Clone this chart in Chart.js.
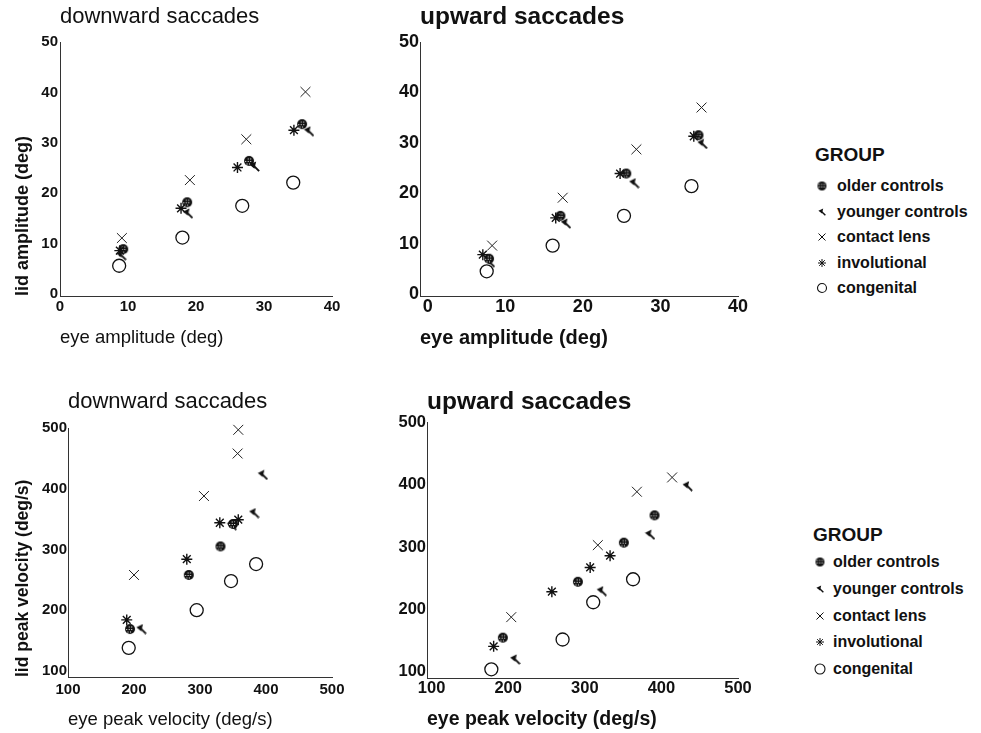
<!DOCTYPE html>
<html>
<head>
<meta charset="utf-8">
<script src="https://cdn.jsdelivr.net/npm/chart.js@4.4.1/dist/chart.umd.min.js"></script>
<style>
  html, body { margin: 0; padding: 0; background: #fff; }
  body { width: 981px; height: 733px; position: relative; overflow: hidden; font-family: "Liberation Sans", Arial, sans-serif; color: #111; }
  canvas.panel { position: absolute; }
  .legend { position: absolute; left: 0; top: 0; }
  .legend div { position: absolute; white-space: nowrap; line-height: 20px; font-weight: bold; }
  .legend canvas { position: absolute; }
</style>
</head>
<body>
<canvas class="panel" id="ampDown" width="380" height="360" style="left:0;top:0"></canvas>
<canvas class="panel" id="ampUp" width="400" height="360" style="left:380px;top:0"></canvas>
<canvas class="panel" id="velDown" width="380" height="353" style="left:0;top:380px"></canvas>
<canvas class="panel" id="velUp" width="400" height="353" style="left:380px;top:380px"></canvas>
<div class="legend" id="legendTop"></div>
<div class="legend" id="legendBottom"></div>

<script>
// --- groups ---
const groups = ['older controls', 'younger controls', 'contact lens', 'involutional', 'congenital'];

// --- amplitude, downward saccades: [eye, lid] in deg ---
const ampDownOlder      = [[9.3, 8.9], [18.7, 18.2], [27.8, 26.4], [35.6, 33.7]];
const ampDownYounger    = [[9.0, 7.7], [18.8, 16.0], [28.6, 25.3], [36.6, 32.3]];
const ampDownContact    = [[9.1, 11.1], [19.1, 22.6], [27.4, 30.7], [36.1, 40.1]];
const ampDownInvol      = [[8.8, 8.6], [17.8, 17.0], [26.1, 25.1], [34.4, 32.5]];
const ampDownCongenital = [[8.7, 5.6], [18.0, 11.2], [26.8, 17.5], [34.3, 22.1]];

// --- amplitude, upward saccades ---
const ampUpOlder      = [[7.9, 7.0], [17.1, 15.5], [25.6, 23.9], [34.9, 31.5]];
const ampUpYounger    = [[8.0, 6.3], [17.8, 14.0], [26.6, 22.0], [35.4, 29.8]];
const ampUpContact    = [[8.3, 9.6], [17.4, 19.1], [26.9, 28.7], [35.3, 37.0]];
const ampUpInvol      = [[7.1, 7.8], [16.5, 15.1], [24.8, 23.9], [34.3, 31.3]];
const ampUpCongenital = [[7.6, 4.5], [16.1, 9.6], [25.3, 15.5], [34.0, 21.4]];

// --- peak velocity, downward saccades: [eye, lid] in deg/s ---
const velDownOlder      = [[194, 169], [283, 258], [331, 305], [350, 342]];
const velDownYounger    = [[211, 169], [348, 340], [382, 360], [395, 423]];
const velDownContact    = [[200, 258], [306, 388], [357, 458], [358, 497]];
const velDownInvol      = [[189, 184], [280, 284], [330, 344], [358, 349]];
const velDownCongenital = [[192, 138], [295, 200], [347, 248], [385, 276]];

// --- peak velocity, upward saccades ---
const velUpOlder      = [[193, 154], [291, 244], [351, 307], [391, 351]];
const velUpYounger    = [[209, 119], [322, 229], [385, 320], [434, 398]];
const velUpContact    = [[204, 187], [317, 303], [368, 389], [414, 412]];
const velUpInvol      = [[181, 140], [257, 228], [307, 267], [333, 286]];
const velUpCongenital = [[178, 103], [271, 151], [311, 211], [363, 248]];

// --- tick labels ---
const ampTicks = [0, 10, 20, 30, 40, 50];
const velTicks = [100, 200, 300, 400, 500];

const fam = '"Liberation Sans", Arial, sans-serif';
Chart.defaults.font.family = fam;
Chart.defaults.color = '#111';

// --- marker images for the two control groups ---
function olderImage(r) {
    const c = document.createElement('canvas');
    const s = Math.ceil(2 * r + 2);
    c.width = s; c.height = s;
    const g = c.getContext('2d');
    g.fillStyle = '#111';
    g.beginPath();
    g.arc(s / 2, s / 2, r, 0, Math.PI * 2);
    g.fill();
    g.fillStyle = '#fff';
    for (let y = 1; y < s; y += 2.5) {
        for (let x = (Math.round(y) % 2 ? 1 : 2.2); x < s; x += 2.5) {
            const dx = x + 0.5 - s / 2, dy = y + 0.5 - s / 2;
            if (dx * dx + dy * dy < (r - 1.2) * (r - 1.2)) g.fillRect(x, y, 1, 1);
        }
    }
    return c;
}

function youngerImage(s) {
    const c = document.createElement('canvas');
    c.width = s; c.height = s;
    const g = c.getContext('2d');
    const k = s / 10;
    g.fillStyle = '#111';
    g.strokeStyle = '#111';
    g.lineWidth = 1.8 * k;
    g.beginPath();
    g.moveTo(0.5 * k, 3.5 * k);
    g.lineTo(6.5 * k, 0.5 * k);
    g.lineTo(5 * k, 7 * k);
    g.closePath();
    g.fill();
    g.beginPath();
    g.moveTo(4 * k, 4 * k);
    g.lineTo(9.2 * k, 9.2 * k);
    g.stroke();
    return c;
}

const olderImg = olderImage(5);
const youngerImg = youngerImage(11);

const markerStyles = [
    { pointStyle: olderImg, radius: 5 },
    { pointStyle: youngerImg, radius: 5 },
    { pointStyle: 'crossRot', radius: 7, borderColor: '#222', borderWidth: 1 },
    { pointStyle: 'star', radius: 5.5, borderColor: '#111', borderWidth: 1.4 },
    { pointStyle: 'circle', radius: 6.5, borderColor: '#111', borderWidth: 1.3, backgroundColor: '#fff' }
];

function toPoints(arr) {
    return arr.map(p => ({ x: p[0], y: p[1] }));
}

function makePanel(id, o) {
    // draw congenital first so the filled symbols sit on top
    const order = [4, 3, 2, 0, 1];
    const datasets = order.map(i => Object.assign({
        label: groups[i],
        data: toPoints(o.series[i]),
        backgroundColor: '#111',
        borderColor: '#111',
        clip: false
    }, markerStyles[i]));

    new Chart(document.getElementById(id), {
        type: 'scatter',
        data: { datasets: datasets },
        options: {
            responsive: false,
            animation: false,
            events: [],
            layout: { padding: { left: 0, top: 0, bottom: 0, right: o.padRight } },
            plugins: {
                legend: { display: false },
                tooltip: { enabled: false },
                title: {
                    display: true,
                    text: o.title,
                    align: 'start',
                    fullSize: false,
                    color: '#111',
                    font: { size: o.titleSize, weight: o.titleWeight },
                    padding: { top: o.titleTop, bottom: o.titleBottom }
                }
            },
            scales: {
                x: {
                    type: 'linear',
                    min: o.xMin, max: o.xMax,
                    afterBuildTicks: s => { s.ticks = o.xTicks.map(v => ({ value: v })); },
                    ticks: { font: { size: o.tickSize, weight: 'bold' }, color: '#111', padding: o.xTickPad, maxRotation: 0, autoSkip: false },
                    grid: { display: false, drawTicks: false },
                    border: { color: '#333', width: 1 },
                    title: {
                        display: true, text: o.xTitle, align: 'start', color: '#111',
                        font: { size: o.xTitleSize, weight: o.xTitleWeight },
                        padding: { top: 0, bottom: o.xTitlePad }
                    },
                    afterFit: s => { s.height = o.xAxisH; }
                },
                y: {
                    type: 'linear',
                    min: o.yMin, max: o.yMax,
                    afterBuildTicks: s => { s.ticks = o.yTicks.map(v => ({ value: v })); },
                    ticks: { font: { size: o.tickSize, weight: 'bold' }, color: '#111', padding: o.yTickPad, autoSkip: false },
                    grid: { display: false, drawTicks: false },
                    border: { color: '#333', width: 1 },
                    title: {
                        display: !!o.yTitle, text: o.yTitle || '', align: 'start', color: '#111',
                        font: { size: o.yTitleSize, weight: 'bold' },
                        padding: { top: o.yTitlePad, bottom: 0 }
                    },
                    afterFit: s => { s.width = o.yAxisW; }
                }
            }
        }
    });
}

makePanel('ampDown', {
    series: [ampDownOlder, ampDownYounger, ampDownContact, ampDownInvol, ampDownCongenital],
    title: 'downward saccades', titleSize: 22, titleWeight: 'normal', titleTop: 4, titleBottom: 11.6,
    xMin: 0, xMax: 40, xTicks: ampTicks.slice(0, 5), yMin: -0.4, yMax: 50, yTicks: ampTicks,
    tickSize: 15, xTickPad: 2, yTickPad: 2,
    xTitle: 'eye amplitude (deg)', xTitleSize: 18.5, xTitleWeight: 'normal', xTitlePad: 11,
    yTitle: 'lid amplitude (deg)', yTitleSize: 18, yTitlePad: 12,
    xAxisH: 64, yAxisW: 60, padRight: 48
});

makePanel('ampUp', {
    series: [ampUpOlder, ampUpYounger, ampUpContact, ampUpInvol, ampUpCongenital],
    title: 'upward saccades', titleSize: 24.5, titleWeight: 'bold', titleTop: 3, titleBottom: 9.6,
    xMin: -1, xMax: 40, xTicks: ampTicks.slice(0, 5), yMin: -0.4, yMax: 50, yTicks: ampTicks,
    tickSize: 18, xTickPad: 0, yTickPad: 1,
    xTitle: 'eye amplitude (deg)', xTitleSize: 20, xTitleWeight: 'bold', xTitlePad: 10,
    yTitle: null, yTitleSize: 18, yTitlePad: 0,
    xAxisH: 64, yAxisW: 40, padRight: 42
});

makePanel('velDown', {
    series: [velDownOlder, velDownYounger, velDownContact, velDownInvol, velDownCongenital],
    title: 'downward saccades', titleSize: 22, titleWeight: 'normal', titleTop: 8.8, titleBottom: 12.8,
    xMin: 100, xMax: 500, xTicks: velTicks, yMin: 90, yMax: 500, yTicks: velTicks,
    tickSize: 15, xTickPad: 4, yTickPad: 1,
    xTitle: 'eye peak velocity (deg/s)', xTitleSize: 18.5, xTitleWeight: 'normal', xTitlePad: 2,
    yTitle: 'lid peak velocity (deg/s)', yTitleSize: 17.5, yTitlePad: 12.5,
    xAxisH: 56, yAxisW: 68, padRight: 48
});

makePanel('velUp', {
    series: [velUpOlder, velUpYounger, velUpContact, velUpInvol, velUpCongenital],
    title: 'upward saccades', titleSize: 24.5, titleWeight: 'bold', titleTop: 7.2, titleBottom: 6.2,
    xMin: 94, xMax: 500, xTicks: velTicks, yMin: 89, yMax: 500, yTicks: velTicks,
    tickSize: 16.5, xTickPad: 1, yTickPad: 1,
    xTitle: 'eye peak velocity (deg/s)', xTitleSize: 19.5, xTitleWeight: 'bold', xTitlePad: 1.3,
    yTitle: null, yTitleSize: 18, yTitlePad: 0,
    xAxisH: 55, yAxisW: 47, padRight: 42
});

// --- HTML legends ---
function drawIcon(kind, size) {
    const c = document.createElement('canvas');
    c.width = 14; c.height = 14;
    const g = c.getContext('2d');
    const m = 7;
    g.strokeStyle = '#111';
    g.fillStyle = '#111';
    if (kind === 0) {
        const img = olderImage(size / 2);
        g.drawImage(img, m - img.width / 2, m - img.height / 2);
    } else if (kind === 1) {
        const img = youngerImage(size);
        g.drawImage(img, m - img.width / 2, m - img.height / 2);
    } else if (kind === 2) {
        const h = size / 2;
        g.lineWidth = 1;
        g.beginPath();
        g.moveTo(m - h, m - h); g.lineTo(m + h, m + h);
        g.moveTo(m + h, m - h); g.lineTo(m - h, m + h);
        g.stroke();
    } else if (kind === 3) {
        const h = size / 2;
        g.lineWidth = 1;
        g.beginPath();
        for (let a = 0; a < 4; a++) {
            const t = a * Math.PI / 4 + Math.PI / 2;
            g.moveTo(m - Math.cos(t) * h, m - Math.sin(t) * h);
            g.lineTo(m + Math.cos(t) * h, m + Math.sin(t) * h);
        }
        g.stroke();
    } else {
        g.lineWidth = 1.1;
        g.beginPath();
        g.arc(m, m, size / 2, 0, Math.PI * 2);
        g.stroke();
    }
    return c;
}

function buildLegend(el, o) {
    const head = document.createElement('div');
    head.textContent = 'GROUP';
    head.style.left = o.headX + 'px';
    head.style.top = (o.headY - 10) + 'px';
    head.style.fontSize = '19px';
    el.appendChild(head);
    groups.forEach((name, i) => {
        const icon = drawIcon(i, o.iconSizes[i]);
        icon.style.left = (o.iconX - 7) + 'px';
        icon.style.top = (o.rows[i] - 7) + 'px';
        el.appendChild(icon);
        const t = document.createElement('div');
        t.textContent = name;
        t.style.left = o.textX + 'px';
        t.style.top = (o.rows[i] - 10) + 'px';
        t.style.fontSize = '16px';
        el.appendChild(t);
    });
}

buildLegend(document.getElementById('legendTop'), {
    headX: 815, headY: 155, iconX: 822, textX: 837,
    rows: [186, 211.5, 237, 262.5, 288],
    iconSizes: [9, 8, 7, 8, 9]
});
buildLegend(document.getElementById('legendBottom'), {
    headX: 813, headY: 535, iconX: 820, textX: 833,
    rows: [562, 589, 615.5, 642, 668.5],
    iconSizes: [9, 8, 7, 8, 10]
});
</script>
</body>
</html>
